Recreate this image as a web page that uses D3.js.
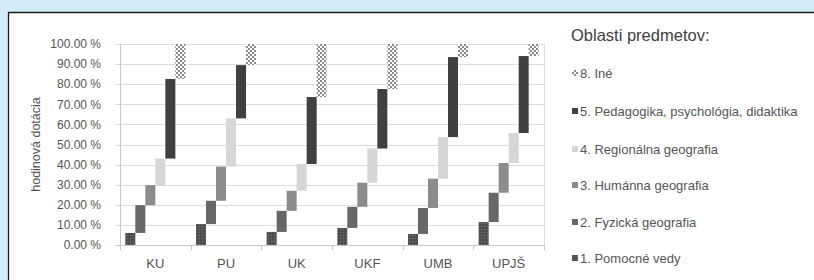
<!DOCTYPE html>
<html><head><meta charset="utf-8">
<script src="https://cdn.jsdelivr.net/npm/d3@7"></script>
<style>
html,body{margin:0;padding:0;background:#d3ebf8;}
svg{display:block;font-family:"Liberation Sans",Arial,sans-serif;}
</style></head>
<body><svg id="c" width="814" height="280"></svg>
<script>
const categories = ["KU","PU","UK","UKF","UMB","UPJŠ"];
const seriesNames = ["1. Pomocné vedy","2. Fyzická geografia","3. Humánna geografia","4. Regionálna geografia","5. Pedagogika, psychológia, didaktika","8. Iné"];
// share of hours (%) per subject area, in category order
const pomocneVedy   = [6.0, 10.4, 6.5, 8.5, 5.5, 11.4];
const fyzicka       = [13.8, 11.6, 10.5, 10.5, 12.9, 14.6];
const humanna       = [10.0, 17.0, 10.0, 12.0, 14.6, 14.8];
const regionalna    = [13.2, 24.0, 13.3, 17.0, 20.7, 14.9];
const pedagogika    = [39.6, 26.5, 33.3, 29.6, 39.8, 38.3];
const ine           = [17.4, 10.5, 26.4, 22.4, 6.5, 6.0];
const yTicks = [0,10,20,30,40,50,60,70,80,90,100];
const legendOrder = [5,4,3,2,1,0];

const seriesValues = [pomocneVedy, fyzicka, humanna, regionalna, pedagogika, ine];
const fills = ["url(#dots)","#676767","#8c8c8c","#d6d6d6","#404040","url(#check)"];

const svg = d3.select("#c");
const defs = svg.append("defs");
const pd = defs.append("pattern").attr("id","dots").attr("width",3).attr("height",3).attr("patternUnits","userSpaceOnUse");
pd.append("rect").attr("width",3).attr("height",3).attr("fill","#4f4f4f");
pd.append("rect").attr("x",1).attr("y",1).attr("width",1).attr("height",1).attr("fill","#7a7a7a");
const pc = defs.append("pattern").attr("id","check").attr("width",4).attr("height",4).attr("patternUnits","userSpaceOnUse");
pc.append("rect").attr("width",4).attr("height",4).attr("fill","#ffffff");
pc.append("rect").attr("x",0).attr("y",0).attr("width",2).attr("height",2).attr("fill","#8a8a8a");
pc.append("rect").attr("x",2).attr("y",2).attr("width",2).attr("height",2).attr("fill","#8a8a8a");

// panel
svg.append("rect").attr("x",8).attr("y",12).attr("width",820).attr("height",280).attr("fill","#fff");
svg.append("line").attr("x1",8).attr("x2",814).attr("y1",12.5).attr("y2",12.5).attr("stroke","#1a1a1a").attr("stroke-width",1.3);
svg.append("line").attr("x1",8.5).attr("x2",8.5).attr("y1",12).attr("y2",280).attr("stroke","#1a1a1a").attr("stroke-width",1.3);

const L=120, R=544, T=44, B=245;
const x0 = d3.scaleBand().domain(categories).range([L,R]).padding(0);
const x1 = d3.scaleBand().domain(d3.range(seriesNames.length)).range([0,x0.bandwidth()]).paddingInner(0).paddingOuter(0.53);
const y = d3.scaleLinear().domain([0,100]).range([B,T]);

// gridlines
const g = svg.append("g");
g.selectAll("line.grid").data(yTicks).join("line")
  .attr("x1",L-5).attr("x2",R).attr("y1",d=>Math.round(y(d))+0.5).attr("y2",d=>Math.round(y(d))+0.5)
  .attr("stroke",d=>d===0?"#c8c8c8":"#dcdcdc").attr("stroke-width",1);
g.append("line").attr("x1",L+0.5).attr("x2",L+0.5).attr("y1",T).attr("y2",B+5).attr("stroke","#c8c8c8");
g.append("line").attr("x1",R+0.5).attr("x2",R+0.5).attr("y1",T).attr("y2",B).attr("stroke","#dcdcdc");
// category tick marks
g.selectAll("line.ct").data(categories.slice(1)).join("line")
  .attr("x1",d=>Math.round(x0(d))+0.5).attr("x2",d=>Math.round(x0(d))+0.5)
  .attr("y1",B).attr("y2",B+5).attr("stroke","#c8c8c8");
g.append("line").attr("x1",R+0.5).attr("x2",R+0.5).attr("y1",B).attr("y2",B+5).attr("stroke","#c8c8c8");

// y labels
svg.append("g").selectAll("text").data(yTicks).join("text")
  .attr("x",101).attr("y",d=>y(d)).attr("dy","0.35em").attr("text-anchor","end")
  .attr("font-size",12).attr("fill","#555").text(d=>d.toFixed(2)+" %");
// x labels
svg.append("g").selectAll("text").data(categories).join("text")
  .attr("x",d=>x0(d)+x0.bandwidth()/2).attr("y",263).attr("dy","0.35em").attr("text-anchor","middle")
  .attr("font-size",13).attr("fill","#555").text(d=>d);
// axis title
svg.append("text").attr("transform",`translate(36,${(T+B)/2}) rotate(-90)`).attr("text-anchor","middle")
  .attr("dy","0.35em").attr("font-size",12.5).attr("fill","#555").text("hodinová dotácia");

// bars
const bars = [];
categories.forEach((c,ci)=>{
  let acc = 0;
  seriesValues.forEach((arr,si)=>{
    bars.push({c, si, start:acc, end:acc+arr[ci]});
    acc += arr[ci];
  });
});
svg.append("g").selectAll("rect").data(bars).join("rect")
  .attr("x",d=>x0(d.c)+x1(d.si)).attr("width",x1.bandwidth())
  .attr("y",d=>y(Math.min(d.end,100))).attr("height",d=>y(d.start)-y(Math.min(d.end,100)))
  .attr("fill",d=>fills[d.si]);

// legend
const lg = svg.append("g");
lg.append("text").attr("x",571).attr("y",35).attr("dy","0.35em").attr("font-size",16.5).attr("fill","#404040").text("Oblasti predmetov:");
const ly = [73,111,149,185,222,258];
legendOrder.forEach((si,i)=>{
  lg.append("rect").attr("x",572).attr("y",ly[i]-3).attr("width",6).attr("height",6).attr("fill",fills[si]);
  lg.append("text").attr("x",580).attr("y",ly[i]).attr("dy","0.35em").attr("font-size",13).attr("fill","#555").text(seriesNames[si]);
});
</script></body></html>
